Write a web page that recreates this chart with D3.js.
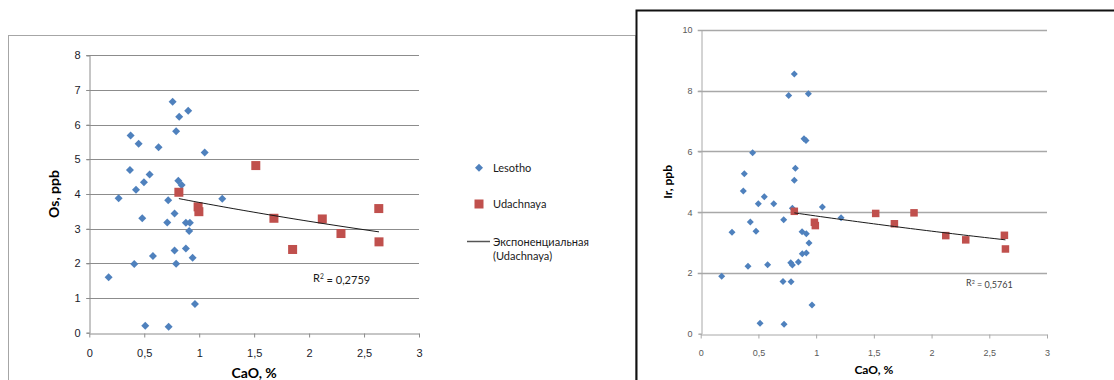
<!DOCTYPE html>
<html>
<head>
<meta charset="utf-8">
<script src="https://cdn.jsdelivr.net/npm/d3@7"></script>
<style>
  html, body { margin: 0; padding: 0; background: #fff; }
  svg { display: block; font-family: Lato, "Noto Sans", "Open Sans", sans-serif; }
</style>
</head>
<body>
<svg id="chart" width="1114" height="380"></svg>
<script>
// CaO axis, shared by both panels
const caoTicks = [0, 0.5, 1, 1.5, 2, 2.5, 3];
const caoTickLabels = ["0", "0,5", "1", "1,5", "2", "2,5", "3"];

// Os panel
const osTicks = [0, 1, 2, 3, 4, 5, 6, 7, 8];
const osTickLabels = ["0", "1", "2", "3", "4", "5", "6", "7", "8"];
const lesothoOsCaO = [0.758, 0.818, 0.90, 0.79, 0.376, 0.449, 0.63, 1.05, 0.37, 0.549, 0.497, 0.425, 0.81, 0.84, 0.267, 0.718, 1.21,
                      0.482, 0.776, 0.709, 0.879, 0.915, 0.909, 0.879, 0.776, 0.579, 0.409, 0.79, 0.94, 0.176, 0.961, 0.509, 0.722];
const lesothoOs    = [6.66, 6.23, 6.40, 5.81, 5.69, 5.45, 5.35, 5.20, 4.69, 4.56, 4.34, 4.12, 4.38, 4.26, 3.88, 3.82, 3.86,
                      3.30, 3.44, 3.18, 3.17, 3.17, 2.93, 2.43, 2.37, 2.21, 1.98, 1.99, 2.16, 1.60, 0.83, 0.20, 0.17];
const udachnayaOsCaO = [0.815, 0.99, 0.997, 1.515, 1.68, 1.85, 2.12, 2.29, 2.634, 2.636];
const udachnayaOs    = [4.05, 3.63, 3.49, 4.82, 3.30, 2.40, 3.28, 2.86, 3.58, 2.62];
const osR2Label = "0,2759";

// Ir panel
const irTicks = [0, 2, 4, 6, 8, 10];
const irTickLabels = ["0", "2", "4", "6", "8", "10"];
const lesothoIrCaO = [0.811, 0.762, 0.933, 0.895, 0.912, 0.45, 0.378, 0.82, 0.811, 0.369, 0.551,
                      0.499, 0.633, 0.794, 1.054, 1.216, 0.43, 0.719, 0.271, 0.479, 0.878, 0.915, 0.938,
                      0.88, 0.915, 0.78, 0.794, 0.846, 0.58, 0.41, 0.182, 0.713, 0.783, 0.964, 0.514, 0.722];
const lesothoIr    = [8.55, 7.84, 7.90, 6.42, 6.36, 5.96, 5.27, 5.45, 5.05, 4.70, 4.51,
                      4.28, 4.28, 4.13, 4.17, 3.82, 3.68, 3.75, 3.34, 3.37, 3.36, 3.29, 2.99,
                      2.63, 2.66, 2.34, 2.26, 2.36, 2.27, 2.22, 1.89, 1.72, 1.71, 0.945, 0.34, 0.31];
const udachnayaIrCaO = [0.811, 0.985, 0.993, 1.516, 1.678, 1.848, 2.123, 2.296, 2.631, 2.64];
const udachnayaIr    = [4.03, 3.67, 3.56, 3.96, 3.62, 3.98, 3.23, 3.09, 3.24, 2.79];
const irR2Label = "0,5761";

// Legend entries
const seriesNames = ["Lesotho", "Udachnaya"];
const trendLegendLines = ["Экспоненциальная", "(Udachnaya)"];

const BLUE = "#4F81BD", RED = "#C0504D";
const svg = d3.select("#chart");

// least-squares fit of y = a * exp(b x) on ln(y)
function expFit(xs, ys) {
  const ly = ys.map(Math.log);
  const mx = d3.mean(xs), my = d3.mean(ly);
  let sxy = 0, sxx = 0;
  xs.forEach((x, i) => { sxy += (x - mx) * (ly[i] - my); sxx += (x - mx) * (x - mx); });
  const b = sxy / sxx;
  const a = Math.exp(my - b * mx);
  return x => a * Math.exp(b * x);
}

function diamondPath(r) {
  return `M0,${-r}L${r},0L0,${r}L${-r},0Z`;
}

function drawPanel(g, cfg) {
  const x = d3.scaleLinear().domain([0, 3]).range(cfg.xRange);
  const y = d3.scaleLinear().domain(cfg.yDomain).range(cfg.yRange);

  // horizontal gridlines with short left ticks
  g.append("g").selectAll("line").data(cfg.yTicks.filter(t => t > 0)).join("line")
    .attr("x1", cfg.xRange[0] - 3).attr("x2", cfg.xRange[1])
    .attr("y1", d => Math.round(y(d)) + 0.5).attr("y2", d => Math.round(y(d)) + 0.5)
    .attr("stroke", cfg.gridColor).attr("stroke-width", cfg.gridWidth);

  // y axis
  const yAxis = d3.axisLeft(y).tickValues(cfg.yTicks)
    .tickFormat((d, i) => cfg.yTickLabels[i]).tickSize(3).tickPadding(cfg.yPad);
  const ya = g.append("g").attr("transform", `translate(${Math.round(cfg.xRange[0]) + 0.5},0)`).call(yAxis);
  ya.select(".domain").attr("stroke", cfg.axisColor);
  ya.selectAll(".tick line").attr("stroke", cfg.axisColor);
  ya.selectAll("text").attr("fill", cfg.labelColor).style("font-size", cfg.tickFont + "px");

  // x axis
  const xAxis = d3.axisBottom(x).tickValues(caoTicks)
    .tickFormat((d, i) => caoTickLabels[i]).tickSize(4).tickSizeOuter(0).tickPadding(cfg.xPad);
  const xa = g.append("g").attr("transform", `translate(0,${Math.round(cfg.yRange[0]) + 0.5})`).call(xAxis);
  xa.select(".domain").attr("stroke", cfg.axisColor);
  xa.selectAll(".tick line").attr("stroke", cfg.axisColor);
  xa.selectAll("text").attr("fill", cfg.labelColor).style("font-size", cfg.tickFont + "px");

  // axis titles
  g.append("text")
    .attr("transform", `translate(${cfg.yTitleX},${(cfg.yRange[0] + cfg.yRange[1]) / 2}) rotate(-90)`)
    .attr("text-anchor", "middle").attr("dy", "0.35em")
    .style("font-weight", "bold").style("font-size", cfg.titleFont + "px").attr("fill", "#000")
    .text(cfg.yTitle);
  g.append("text")
    .attr("x", (cfg.xRange[0] + cfg.xRange[1]) / 2).attr("y", cfg.xTitleY)
    .attr("text-anchor", "middle").attr("dy", "0.35em")
    .style("font-weight", "bold").style("font-size", cfg.titleFont + "px").attr("fill", "#000")
    .text("CaO, %");

  // Lesotho diamonds
  g.append("g").selectAll("path").data(cfg.lesX.map((v, i) => [v, cfg.lesY[i]])).join("path")
    .attr("d", diamondPath(cfg.diamondR))
    .attr("transform", d => `translate(${x(d[0])},${y(d[1])})`)
    .attr("fill", BLUE);

  // Udachnaya squares
  const s = cfg.squareSize;
  g.append("g").selectAll("rect").data(cfg.udaX.map((v, i) => [v, cfg.udaY[i]])).join("rect")
    .attr("x", d => x(d[0]) - s / 2).attr("y", d => y(d[1]) - s / 2)
    .attr("width", s).attr("height", s)
    .attr("fill", RED);

  // exponential trend through the Udachnaya points
  const f = expFit(cfg.udaX, cfg.udaY);
  const [x0, x1] = d3.extent(cfg.udaX);
  const pts = d3.range(0, 41).map(k => x0 + (x1 - x0) * k / 40);
  g.append("path")
    .attr("d", d3.line().x(d => x(d)).y(d => y(f(d)))(pts))
    .attr("fill", "none").attr("stroke", "#1a1a1a").attr("stroke-width", 1);

  // R² label
  const r2 = g.append("text").attr("x", cfg.r2Pos[0]).attr("y", cfg.r2Pos[1]).attr("dy", "0.35em")
    .attr("fill", cfg.r2Color).style("font-size", cfg.r2Font + "px");
  r2.append("tspan").text("R");
  r2.append("tspan").attr("dy", "-0.4em").style("font-size", (cfg.r2Font * 0.6) + "px").text("2");
  r2.append("tspan").attr("dy", "0.4em").text(" = " + cfg.r2Label);
}

// ---- left panel: Os ----
const left = svg.append("g");
left.append("rect").attr("x", 8.5).attr("y", 35.5).attr("width", 627).attr("height", 400)
  .attr("fill", "#fff").attr("stroke", "#a6a6a6").attr("stroke-width", 1);

drawPanel(left, {
  xRange: [89.3, 419], yDomain: [0, 8], yRange: [332.7, 55.3],
  yTicks: osTicks, yTickLabels: osTickLabels,
  gridColor: "#8c8c8c", gridWidth: 1, axisColor: "#8c8c8c", labelColor: "#1a1a2a",
  tickFont: 11, yPad: 6, xPad: 12, titleFont: 14,
  yTitle: "Os, ppb", yTitleX: 54, xTitleY: 373,
  lesX: lesothoOsCaO, lesY: lesothoOs, udaX: udachnayaOsCaO, udaY: udachnayaOs,
  diamondR: 4, squareSize: 9,
  r2Pos: [313, 278], r2Label: osR2Label, r2Color: "#1a1a1a", r2Font: 11
});

// legend of the Os panel
const lg = left.append("g");
lg.append("path").attr("d", diamondPath(4)).attr("transform", "translate(479,167.7)").attr("fill", BLUE);
lg.append("rect").attr("x", 474.5).attr("y", 199.5).attr("width", 9).attr("height", 9).attr("fill", RED);
lg.append("line").attr("x1", 467).attr("x2", 490).attr("y1", 241.5).attr("y2", 241.5)
  .attr("stroke", "#555").attr("stroke-width", 1.5);
lg.selectAll("text.series").data(seriesNames).join("text").attr("class", "series")
  .attr("x", 493).attr("y", (d, i) => [167.7, 204][i]).attr("dy", "0.35em")
  .style("font-size", "11px").attr("fill", "#1a1a1a").text(d => d);
lg.selectAll("text.trend").data(trendLegendLines).join("text").attr("class", "trend")
  .attr("x", 493).attr("y", (d, i) => 241.7 + i * 14.5).attr("dy", "0.35em")
  .style("font-size", "11px").attr("fill", "#1a1a1a").text(d => d);

// ---- right panel: Ir ----
const right = svg.append("g");
right.append("rect").attr("x", 636.5).attr("y", 10.5).attr("width", 500).attr("height", 400)
  .attr("fill", "#fff").attr("stroke", "#111").attr("stroke-width", 2);

drawPanel(right, {
  xRange: [700.7, 1047], yDomain: [0, 10], yRange: [333.7, 30],
  yTicks: irTicks, yTickLabels: irTickLabels,
  gridColor: "#a8a8a8", gridWidth: 1.3, axisColor: "#a8a8a8", labelColor: "#595959",
  tickFont: 9, yPad: 6, xPad: 11, titleFont: 12,
  yTitle: "Ir, ppb", yTitleX: 668, xTitleY: 370,
  lesX: lesothoIrCaO, lesY: lesothoIr, udaX: udachnayaIrCaO, udaY: udachnayaIr,
  diamondR: 3.5, squareSize: 7.5,
  r2Pos: [966, 283.3], r2Label: irR2Label, r2Color: "#404040", r2Font: 9
});
</script>
</body>
</html>
